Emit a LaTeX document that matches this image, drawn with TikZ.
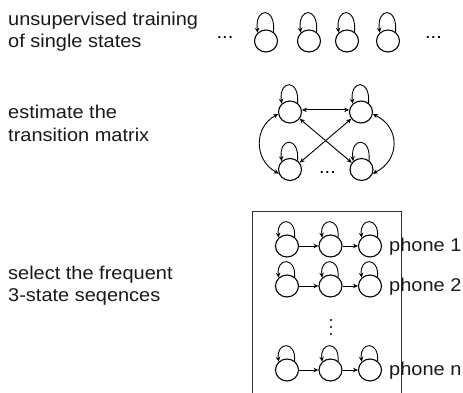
\documentclass[tikz,border=0pt]{standalone}
\usepackage{fontspec}
\setmainfont{Liberation Sans}[FakeStretch=1.08]
\usetikzlibrary{arrows.meta,shapes.geometric}
\begin{document}
\begin{tikzpicture}[x=1pt,y=1pt,
  lbl/.style={font=\fontsize{18.5}{22}\selectfont, inner sep=0pt, anchor=base west, text=black!90},
  dotsl/.style={font=\fontsize{18.5}{22}\selectfont, inner sep=0pt, anchor=base},
  state/.style={ellipse, draw, line width=1.1pt, minimum width=23pt, minimum height=22pt, inner sep=0pt},
  arr/.style={line width=0.9pt, -{Stealth[length=5pt,width=4.5pt]}},
  darr/.style={line width=0.9pt, {Stealth[length=5pt,width=4.5pt]}-{Stealth[length=5pt,width=4.5pt]}},
  boxline/.style={line width=0.9pt, draw=black!80}]
\useasboundingbox (0,0) rectangle (463,393);
% texts
\node[lbl] (t1a) at (8,367.3) {unsupervised training};
\node[lbl] (t1b) at (8,345.3) {of single states};
\node[lbl] (t2a) at (8,274.7) {estimate the};
\node[lbl] (t2b) at (8,251) {transition matrix};
\node[lbl] (t3a) at (8,113) {select the frequent};
\node[lbl] (t3b) at (8,91) {3-state seqences};
% row of single states
\node[dotsl] (d1) at (225,354) {...};
\node[state] (s1) at (266,352) {};
\node[state] (s2) at (309,352) {};
\node[state] (s3) at (347,352) {};
\node[state] (s4) at (388,352) {};
\node[dotsl] (d2) at (433.5,354) {...};
\foreach \n in {s1,s2,s3,s4}{
  \draw[arr] (\n.50) .. controls +(85:26) and +(97:26) .. (\n.135);
}
% transition matrix
\node[state] (tl) at (290,281) {};
\node[state] (tr) at (361,281) {};
\node[state] (bl) at (290,223.5) {};
\node[state] (br) at (361.5,223.5) {};
\node[dotsl] (d3) at (327.5,219) {...};
\foreach \n in {tl,tr,bl,br}{
  \draw[arr] (\n.50) .. controls +(85:24.5) and +(97:24.5) .. (\n.135);
}
\draw[darr] (tl.10) -- (tr.170);
\draw[darr] (tl.-35) -- (br.145);
\draw[darr] (bl.35) -- (tr.-145);
\draw[darr] (tl.190) .. controls (253.75,266) and (253.75,233) .. (bl.200);
\draw[darr] (tr.-10) .. controls (400.3,266) and (400.3,233) .. (br.-20);
% box
\draw[boxline] (252.7,-3) |- (401.7,181.3) -- (401.7,-3);
\foreach \r/\y/\lab in {a/147/phone 1,b/107/phone 2,c/23/phone n}{
  \node[state] (\r1) at (287,\y) {};
  \node[state] (\r2) at (330.5,\y) {};
  \node[state] (\r3) at (370,\y) {};
  \foreach \n in {\r1,\r2,\r3}{
    \draw[arr] (\n.50) .. controls +(85:20.5) and +(97:20.5) .. (\n.135);
  }
  \draw[arr] (\r1) -- (\r2);
  \draw[arr] (\r2) -- (\r3);
  \node[lbl] (p\r) at (389,\y-6) {\lab};
}
\foreach \yy in {73,66,59}{
  \fill (331,\yy) circle (1.1pt);
}
\end{tikzpicture}
\end{document}
